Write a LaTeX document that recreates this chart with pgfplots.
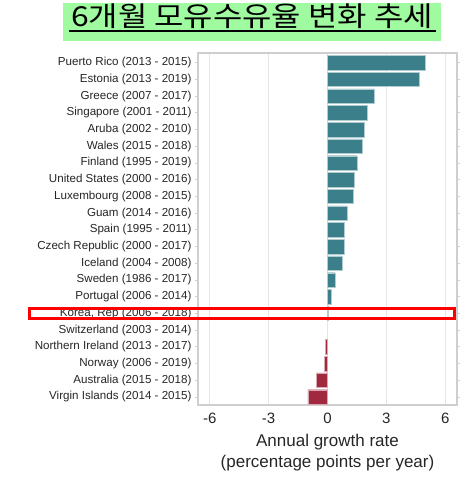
\documentclass[border=0pt]{standalone}
\usepackage{pgfplots}
\pgfplotsset{compat=1.18}
\usepackage{fontspec}
\setmainfont{Liberation Sans}
\newfontfamily\kr{Noto Sans CJK KR}
\definecolor{tealbar}{HTML}{3A7F8A}
\definecolor{redbar}{HTML}{A0283F}
\definecolor{titlegreen}{HTML}{A0FAA0}
\definecolor{framegray}{HTML}{CFCFCF}
\definecolor{gridgray}{HTML}{E6E6E6}

\begin{document}
\begin{tikzpicture}[x=1pt,y=1pt]
\useasboundingbox (0,0) rectangle (465,478);
% title box
\fill[titlegreen] (63,437) rectangle (441,475);
\node[font=\kr\fontsize{27.5}{30}\selectfont, anchor=base, xscale=1.16, inner sep=0pt] at (252,451.5) {6개월 모유수유율 변화 추세};
\draw[line width=2.5pt] (69,447) -- (436,447);

\begin{axis}[
	at={(198pt,73pt)}, anchor=south west,
	scale only axis, width=259pt, height=352pt,
	xbar, bar width=0.87, bar shift=0pt,
	y dir=reverse,
	xmin=-6.6, xmax=6.6,
	ymin=-0.58, ymax=20.48,
	xtick={-6,-3,0,3,6},
	ytick={0,...,20},
	yticklabels={Puerto Rico (2013 - 2015), Estonia (2013 - 2019), Greece (2007 - 2017),
		Singapore (2001 - 2011), Aruba (2002 - 2010), Wales (2015 - 2018),
		Finland (1995 - 2019), United States (2000 - 2016), Luxembourg (2008 - 2015),
		Guam (2014 - 2016), Spain (1995 - 2011), Czech Republic (2000 - 2017),
		Iceland (2004 - 2008), Sweden (1986 - 2017), Portugal (2006 - 2014),
		{Korea, Rep (2006 - 2018)}, Switzerland (2003 - 2014), Northern Ireland (2013 - 2017),
		Norway (2006 - 2019), Australia (2015 - 2018), Virgin Islands (2014 - 2015)},
	/pgf/number format/assume math mode=true,
	yticklabel style={font=\fontsize{11.6}{13}\selectfont, text=black!85},
	xticklabel style={font=\fontsize{15}{17}\selectfont, text=black!85, yshift=-1pt},
	xlabel={Annual growth rate\\(percentage points per year)},
	xlabel style={font=\fontsize{17}{21.5}\selectfont, align=center, text=black!85, yshift=-4pt},
	axis line style={framegray, line width=1.2pt},
	xmajorgrids, grid style={gridgray, line width=0.8pt},
	tick align=outside, major tick length=3pt,
	ytick style={framegray, line width=0.8pt},
	xtick style={draw=none},
]
\addplot[fill=tealbar, draw=tealbar!40!white, line width=0.4pt] coordinates {
	(5.00,0) (4.68,1) (2.40,2) (2.04,3) (1.87,4) (1.75,5) (1.50,6) (1.38,7)
	(1.29,8) (0.99,9) (0.85,10) (0.85,11) (0.75,12) (0.39,13) (0.20,14) (0.03,15)
};
\addplot[fill=redbar, draw=redbar!40!white, line width=0.4pt] coordinates {
	(-0.10,17) (-0.17,18) (-0.58,19) (-1.00,20)
};
\end{axis}
% highlight box
\draw[red, line width=3pt] (29,169.5) rectangle (454,159.5);
\end{tikzpicture}
\end{document}
